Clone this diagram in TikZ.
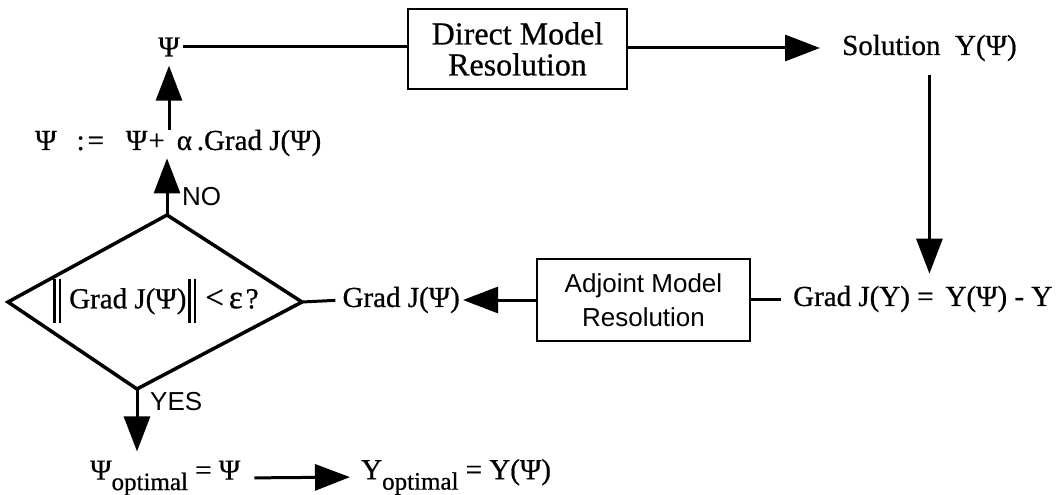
\documentclass[tikz,border=0pt]{standalone}
\usepackage{fontspec}
\setmainfont{Liberation Serif}[FakeBold=0.6]
\setsansfont{Liberation Sans}
\newfontfamily\heavyserif{Liberation Serif}[FakeBold=0.7]
\usetikzlibrary{arrows.meta}
% double bar of the norm
\newcommand{\normbar}{\rule[-0.5em]{2.6pt}{1.5em}\hspace{2.6pt}\rule[-0.5em]{2.6pt}{1.5em}}
% lowered "optimal" subscript
\newcommand{\optsub}{\raisebox{-0.36em}{\fontsize{25}{25}\selectfont optimal}}

\begin{document}
\begin{tikzpicture}[x=1pt,y=-1pt,
  every node/.style={font=\heavyserif\fontsize{29}{33}\selectfont, inner sep=0pt},
  lbl/.style={font=\sffamily\fontsize{26}{30}\selectfont},
  procbox/.style={draw, line width=2.8pt, align=center, inner sep=0pt},
  link/.style={line width=3pt},
  arr/.style={link, -{Triangle[length=35pt,width=26pt]}},
]
\useasboundingbox (0,0) rectangle (1058,495);

% top row
\node (psi) at (169,47) {Ψ};
\node[procbox, font=\heavyserif\fontsize{32}{31}\selectfont, minimum width=219pt, minimum height=80pt] (direct) at (517.5,49) {Direct Model\\Resolution};
\node[anchor=west] (sol) at (842,48) {Solution\ \ Y(Ψ)};

% middle row
\node[anchor=west] (gradY) at (793,299) {Grad J(Y) =\hspace{12pt}Y(Ψ) - Y};
\node[procbox, font=\sffamily\fontsize{26}{34}\selectfont, minimum width=213pt, minimum height=82pt] (adj) at (643.5,300) {Adjoint Model\\Resolution};
\node[anchor=east] (gradpsi) at (460,300) {Grad J(Ψ)};

% decision
\coordinate (dT) at (167,215);
\coordinate (dR) at (302,302);
\coordinate (dB) at (137,389);
\coordinate (dL) at (8,302);
\draw[line width=3.5pt, line join=miter] (dT) -- (dR) -- (dB) -- (dL) -- cycle;
\node (cond) at (156,301) {\normbar\hspace{8pt}Grad J(Ψ)\hspace{2pt}\normbar\hspace{9pt}{\fontsize{33}{33}\selectfont<\hspace{5pt}ε\hspace{3pt}}?};

% update step
\node[anchor=west] (upd) at (35,143) {Ψ\hspace{20pt}:\hspace{3pt}=\hspace{22pt}Ψ\hspace{1pt}+\hspace{12pt}α\,.Grad J(Ψ)};
\node[lbl, anchor=west] (no) at (182,197) {NO};
\node[lbl, anchor=west] (yes) at (150,402) {YES};

% result
\node[anchor=west] (psiopt) at (90,478) {Ψ\optsub\ = Ψ};
\node[anchor=west] (yopt) at (361,477) {Y\optsub\ = Y(Ψ)};

% connectors
\draw[link, shorten <=3pt] (psi.east) -- (psi.east -| direct.west);
\draw[arr, shorten >=22pt] (direct.east |- sol.west) -- (sol.west);
\draw[arr, shorten <=14pt, shorten >=12pt] (sol.south) -- (sol.south |- gradY.north);
\draw[link, shorten <=12pt] (gradY.west) -- (gradY.west -| adj.east);
\draw[arr, shorten >=3pt] (adj.west) -- (gradpsi.east);
\draw[link, shorten <=7pt] (gradpsi.west) -- (dR);
\draw[arr, shorten >=2pt] (dT) -- (dT |- upd.south);
\draw[arr, shorten >=9pt] (psi.south |- upd.north) -- (psi.south);
\draw[arr, shorten >=9pt] (dB) -- (dB |- psiopt.north);
\draw[arr, shorten <=14pt, shorten >=11pt] (psiopt.east) -- (yopt.west);
\end{tikzpicture}
\end{document}
